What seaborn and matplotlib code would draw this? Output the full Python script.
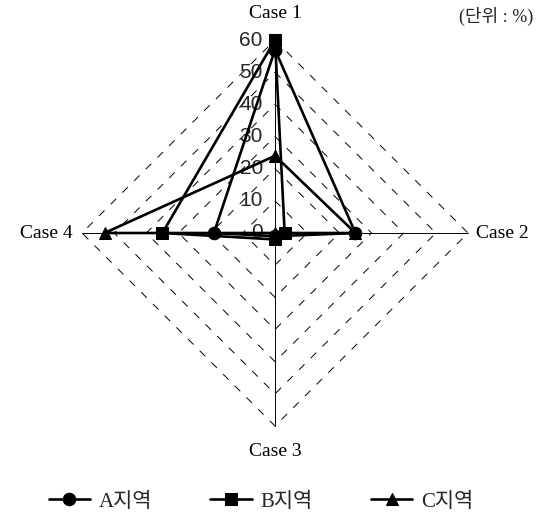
import numpy as np
import pandas as pd
import matplotlib
matplotlib.use("Agg")
import matplotlib.pyplot as plt
import seaborn as sns
from matplotlib.font_manager import FontProperties

sns.set_style("white")
plt.rcParams['font.family'] = ['Liberation Serif', 'Noto Sans CJK KR']

cases = ['Case 1', 'Case 2', 'Case 3', 'Case 4']
regions = ['A지역', 'B지역', 'C지역']
a_vals = [57, 25, 1, 19]
b_vals = [60, 3, 2, 35]
c_vals = [24, 25, 0, 53]
ticks = [0, 10, 20, 30, 40, 50, 60]

# axis directions: Case 1 up, Case 2 right, Case 3 down, Case 4 left
angles = np.deg2rad([90, 0, -90, 180])
rmax = 60

rows = []
for reg, vals in zip(regions, [a_vals, b_vals, c_vals]):
    for i, k in enumerate(list(range(4)) + [0]):
        rows.append({'region': reg, 'step': i,
                     'x': vals[k] * np.cos(angles[k]),
                     'y': vals[k] * np.sin(angles[k])})
df = pd.DataFrame(rows)

fig = plt.figure(figsize=(5.41, 5.13), dpi=100)
ax = fig.add_axes([0, 0, 1, 1])
px = 60 / 193  # data units per pixel
ax.set_xlim(-275 * px, (541 - 275) * px)
ax.set_ylim(-280 * px, (513 - 280) * px)
ax.axis('off')

# dashed diamond grid
for t in ticks[1:]:
    gx = [t * np.cos(a) for a in angles[[0, 1, 2, 3, 0]]]
    gy = [t * np.sin(a) for a in angles[[0, 1, 2, 3, 0]]]
    ax.plot(gx, gy, color='black', lw=0.7, ls=(0, (8, 9)), zorder=1)
for a in angles:
    ax.plot([0, rmax * np.cos(a)], [0, rmax * np.sin(a)], color='black', lw=0.7, zorder=1)

for t in ticks:
    ax.text(-3.8, t, str(t), ha='right', va='center', fontsize=15,
            family='Liberation Sans', zorder=2)

sns.lineplot(data=df, x='x', y='y', hue='region', style='region', sort=False,
             estimator=None, palette=['black'] * 3, markers=['o', 's', '^'],
             dashes=False, lw=1.9, markersize=9, mec='black', ax=ax, zorder=3)

lab_font = dict(fontsize=14, color='black')
ax.text(0, rmax + 26 * px, cases[0], ha='center', va='center', **lab_font)
ax.text(rmax + 8 * px, 0, cases[1], ha='left', va='center', **lab_font)
ax.text(0, -rmax - 26 * px, cases[2], ha='center', va='center', **lab_font)
ax.text(-rmax - 9 * px, 0, cases[3], ha='right', va='center', **lab_font)
ax.text(0.985, 0.968, '(단위 : %)', transform=ax.transAxes, ha='right', va='center',
        fontsize=13)

handles, labels = ax.get_legend_handles_labels()
ax.legend(handles, labels, ncol=3, loc='center', bbox_to_anchor=(0.482, 0.022),
          frameon=False, handlelength=2.0, handletextpad=0.4, columnspacing=2.8,
          prop=FontProperties(family=['Liberation Serif', 'Noto Sans CJK KR'], size=15))

fig.savefig('out.png', dpi=100)
